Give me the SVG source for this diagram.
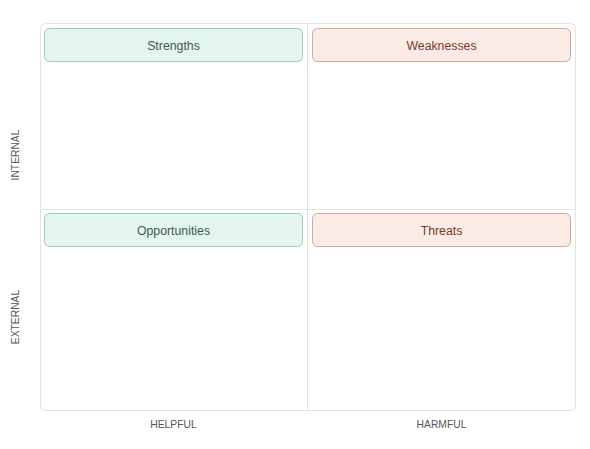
<svg xmlns="http://www.w3.org/2000/svg" width="590" height="449" viewBox="0 0 590 449">
  <style>
    .frame { fill: #ffffff; stroke: #e2e2e2; stroke-width: 1; }
    .div { stroke: #e2e2e2; stroke-width: 1; fill: none; }
    .pos { fill: #e3f5ee; stroke: #9ccab6; stroke-width: 1; }
    .neg { fill: #fbebe6; stroke: #d4a898; stroke-width: 1; }
    .tpos { font-family: "Liberation Sans", Arial, sans-serif; font-size: 12.3px; fill: #3d5c4f; text-anchor: middle; }
    .tneg { font-family: "Liberation Sans", Arial, sans-serif; font-size: 12.3px; fill: #7a3b27; text-anchor: middle; }
    .axis { font-family: "Liberation Sans", Arial, sans-serif; font-size: 10.3px; fill: #555555; text-anchor: middle; }
  </style>
  <rect width="590" height="449" fill="#ffffff"/>
  <g id="frame">
    <rect class="frame" x="40.5" y="23.5" width="535" height="387" rx="5"/>
  </g>
  <g id="connectors">
    <line class="div" x1="307.5" y1="24" x2="307.5" y2="410"/>
    <line class="div" x1="41" y1="209.5" x2="575" y2="209.5"/>
  </g>
  <g id="strengths">
    <rect class="pos" x="44.5" y="28.5" width="258" height="33" rx="5"/>
    <text class="tpos" x="173.5" y="49.5">Strengths</text>
  </g>
  <g id="weaknesses">
    <rect class="neg" x="312.5" y="28.5" width="258" height="33" rx="5"/>
    <text class="tneg" x="441.5" y="49.5">Weaknesses</text>
  </g>
  <g id="opportunities">
    <rect class="pos" x="44.5" y="213.5" width="258" height="33" rx="5"/>
    <text class="tpos" x="173.5" y="234.5">Opportunities</text>
  </g>
  <g id="threats">
    <rect class="neg" x="312.5" y="213.5" width="258" height="33" rx="5"/>
    <text class="tneg" x="441.5" y="234.5">Threats</text>
  </g>
  <g id="axis-labels">
    <text class="axis" transform="translate(18.5,155) rotate(-90)">INTERNAL</text>
    <text class="axis" transform="translate(18.5,317) rotate(-90)">EXTERNAL</text>
    <text class="axis" x="173.5" y="428">HELPFUL</text>
    <text class="axis" x="441.5" y="428">HARMFUL</text>
  </g>
</svg>
